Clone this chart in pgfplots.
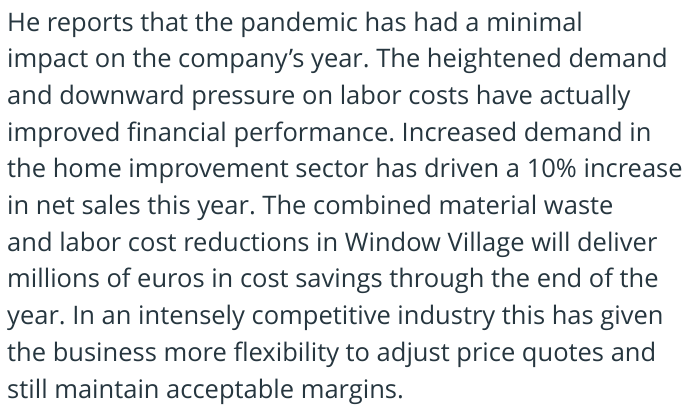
\documentclass[border=0pt]{standalone}
\usepackage{pgfplots}
\pgfplotsset{compat=1.18}
\usepackage{fontspec}
\setmainfont{Open Sans}
\frenchspacing
\definecolor{txt}{HTML}{26363F}
\begin{document}
\begin{tikzpicture}
\begin{axis}[
  at={(0,0)}, anchor=south west,
  width=684bp, height=410bp, scale only axis,
  xmin=0, xmax=684, ymin=0, ymax=410, y dir=reverse,
  hide axis, clip=false,
]
\addplot[draw=none] coordinates {(0,0) (684,410)};
\foreach \y/\t in {
  31.0/{He reports that the pandemic has had a minimal},
  67.7/{impact on the company’s year. The heightened demand},
  104.4/{and downward pressure on labor costs have actually},
  141.1/{improved financial performance. Increased demand in},
  177.8/{the home improvement sector has driven a 10\% increase},
  214.5/{in net sales this year. The combined material waste},
  251.2/{and labor cost reductions in Window Village will deliver},
  287.9/{millions of euros in cost savings through the end of the},
  324.6/{year. In an intensely competitive industry this has given},
  361.3/{the business more flexibility to adjust price quotes and},
  398.0/{still maintain acceptable margins.}}{
  \edef\temp{\noexpand\node[anchor=base west, inner sep=0pt, text=txt, font=\noexpand\fontsize{25.5bp}{30bp}\noexpand\selectfont] at (axis cs:7,\y) {\unexpanded\expandafter{\t}};}
  \temp
}
\end{axis}
\path[use as bounding box] (0,0) rectangle (684bp,410bp);
\end{tikzpicture}
\end{document}
